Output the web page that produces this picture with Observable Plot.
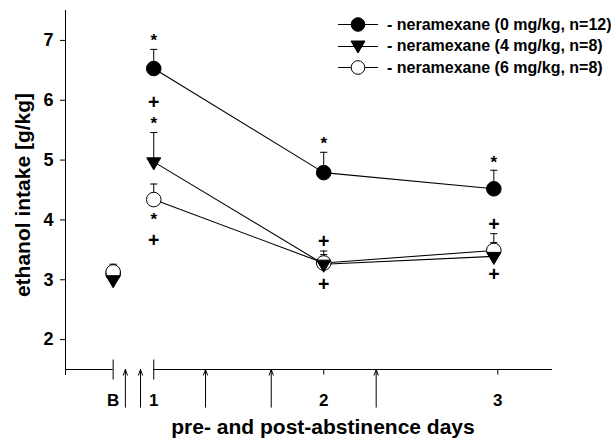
<!DOCTYPE html>
<html><head><meta charset="utf-8">
<script src="https://cdn.jsdelivr.net/npm/d3@7"></script>
<script src="https://cdn.jsdelivr.net/npm/@observablehq/plot@0.6"></script>
<style>
body{margin:0;background:#fff;}
#wrap{position:relative;width:611px;height:441px;font-family:"Liberation Sans",Arial,sans-serif;}
#legend{position:absolute;left:338px;top:14px;}
.row{display:flex;align-items:center;height:21.5px;font-weight:bold;font-size:16px;color:#000;white-space:nowrap;}
.row svg{margin-right:9px;flex:none;}
</style></head><body><div id="wrap"><div id="legend"></div></div>
<script>
// ---- data ----
const seriesNames = ["0 mg/kg", "4 mg/kg", "6 mg/kg"];
const legendLabels = ["- neramexane (0 mg/kg, n=12)", "- neramexane (4 mg/kg, n=8)", "- neramexane (6 mg/kg, n=8)"];
const dayNames = ["B", "1", "2", "3"];
const dayTickPos = [0.764, 1, 1.988, 3];        // tick positions on the day axis
const pointX = [0.764, 1, 1.988, 2.977];        // measurement times (B, day1, day2, day3)
const mean0 = [3.10, 6.53, 4.79, 4.52];
const err0  = [3.22, 6.85, 5.13, 4.83];
const mean4 = [3.00, 4.97, 3.26, 3.39];
const err4  = [3.08, 5.46, 3.42, 3.62];
const mean6 = [3.13, 4.34, 3.28, 3.49];
const err6  = [3.26, 4.60, 3.48, 3.77];
const arrowX = [0.835, 0.923, 1.301, 1.683, 2.293];  // abstinence / treatment arrows
// significance marks: "*" and "+"
const starX = [1, 1, 1, 1.988, 2.977];
const starY = [7.07, 5.67, 4.07, 5.34, 5.03];
const plusX = [1, 1, 1.988, 1.988, 2.977, 2.977];
const plusY = [5.95, 3.66, 3.64, 2.92, 3.92, 3.09];
const yTicks = [2, 3, 4, 5, 6, 7];
const xDomain = [0.487, 3.318];
const yDomain = [1.5, 7.5];
const xLabel = "pre- and post-abstinence days";
const yLabel = "ethanol intake [g/kg]";

// ---- table ----
const means = [mean0, mean4, mean6], errs = [err0, err4, err6];
const rows = [];
seriesNames.forEach((s, k) => dayNames.forEach((d, i) =>
  rows.push({series: s, day: d, x: pointX[i], mean: means[k][i], err: errs[k][i]})));
const post = rows.filter(d => d.day !== "B");

// ---- symbols ----
const triDown = {draw(ctx, size) {
  const s3 = Math.sqrt(3), y = Math.sqrt(size / (3 * s3));
  ctx.moveTo(0, 2 * y); ctx.lineTo(-s3 * y, -y); ctx.lineTo(s3 * y, -y); ctx.closePath();
}};
const hbar = {draw(ctx, size) { const w = Math.sqrt(size / Math.PI); ctx.moveTo(-w, 0); ctx.lineTo(w, 0); }};
const vbar = {draw(ctx, size) { const h = Math.sqrt(size / Math.PI); ctx.moveTo(0, -h); ctx.lineTo(0, h); }};
const vdown = {draw(ctx, size) { const h = Math.sqrt(size / Math.PI); ctx.moveTo(0, 0); ctx.lineTo(0, h); }};

const font = "Liberation Sans, Arial, sans-serif";
const chart = Plot.plot({
  width: 611, height: 441,
  marginLeft: 65, marginRight: 59, marginTop: 10, marginBottom: 72,
  x: {domain: xDomain, axis: null},
  y: {domain: yDomain, axis: null},
  style: {fontFamily: font, fontWeight: "bold", fontSize: "18px", background: "#fff", color: "#000"},
  marks: [
    // axes
    Plot.ruleX([xDomain[0]], {y1: 1.4, y2: yDomain[1], stroke: "#000", strokeWidth: 1}),
    Plot.axisY({ticks: yTicks, tickFormat: "d", tickSize: 5, tickPadding: 7, fontSize: 18, fontWeight: "bold", stroke: "#000", strokeWidth: 1}),
    Plot.ruleY([[xDomain[0], dayTickPos[0]], [dayTickPos[1], xDomain[1]]], {x1: d => d[0], x2: d => d[1], y: yDomain[0], stroke: "#000", strokeWidth: 1}),
    Plot.dot(dayTickPos.slice(0, 2), {x: d => d, y: yDomain[0], symbol: vbar, r: 10, stroke: "#000", strokeWidth: 1}),
    Plot.dot(dayTickPos.slice(2), {x: d => d, y: yDomain[0], symbol: vdown, r: 5, stroke: "#000", strokeWidth: 1}),
    Plot.text(dayNames, {x: (d, i) => dayTickPos[i], y: yDomain[0], dy: 31, text: d => d, fontSize: 17, fontWeight: "bold"}),
    Plot.arrow(arrowX, {x1: d => d, x2: d => d, y1: 0.87, y2: yDomain[0], stroke: "#000", strokeWidth: 1, headLength: 9, headAngle: 40}),
    Plot.text([xLabel], {frameAnchor: "bottom", dx: 14, dy: 64, fontSize: 21, fontWeight: "bold"}),
    Plot.text([yLabel], {frameAnchor: "left", textAnchor: "middle", dx: -42, dy: 5, rotate: -90, fontSize: 21, fontWeight: "bold"}),
    // lines
    Plot.line(post, {x: "x", y: "mean", z: "series", stroke: "#000", strokeWidth: 1.1}),
    // error bars
    Plot.ruleX(rows, {x: "x", y1: "mean", y2: "err", stroke: "#000", strokeWidth: 1}),
    Plot.dot(rows, {x: "x", y: "err", symbol: hbar, r: 3.6, stroke: "#000", strokeWidth: 1}),
    // markers
    Plot.dot(rows.filter(d => d.series === seriesNames[0]), {x: "x", y: "mean", r: 7.3, fill: "#000", stroke: "#000", strokeWidth: 1}),
    Plot.dot(rows.filter(d => d.series === seriesNames[2]), {x: "x", y: "mean", r: 7.3, fill: "#fff", stroke: "#000", strokeWidth: 1}),
    Plot.dot(rows.filter(d => d.series === seriesNames[1]), {x: "x", y: "mean", symbol: triDown, r: 5.2, fill: "#000", stroke: "#000", strokeWidth: 1}),
    // significance marks
    Plot.text(starX, {x: d => d, y: (d, i) => starY[i], text: () => "*", dy: 4, fontSize: 17, fontWeight: "bold"}),
    Plot.text(plusX, {x: d => d, y: (d, i) => plusY[i], text: () => "+", fontSize: 19.5, fontWeight: "bold"})
  ]
});
const wrap = document.getElementById("wrap");
wrap.insertBefore(chart, wrap.firstChild);

// legend
const legend = document.getElementById("legend");
const legendSym = [
  '<circle cx="20" cy="10.5" r="6.8" fill="#000" stroke="#000"/>',
  '<path d="M13,5 L27,5 L20,17 Z" fill="#000" stroke="#000"/>',
  '<circle cx="20" cy="10.5" r="6.8" fill="#fff" stroke="#000"/>'
];
legendLabels.forEach((lab, i) => {
  const row = document.createElement("div");
  row.className = "row";
  row.innerHTML = `<svg width="40" height="21" viewBox="0 0 40 21"><line x1="0" x2="40" y1="10.5" y2="10.5" stroke="#000" stroke-width="1.1"/>${legendSym[i]}</svg><span>${lab}</span>`;
  legend.appendChild(row);
});
</script></body></html>
